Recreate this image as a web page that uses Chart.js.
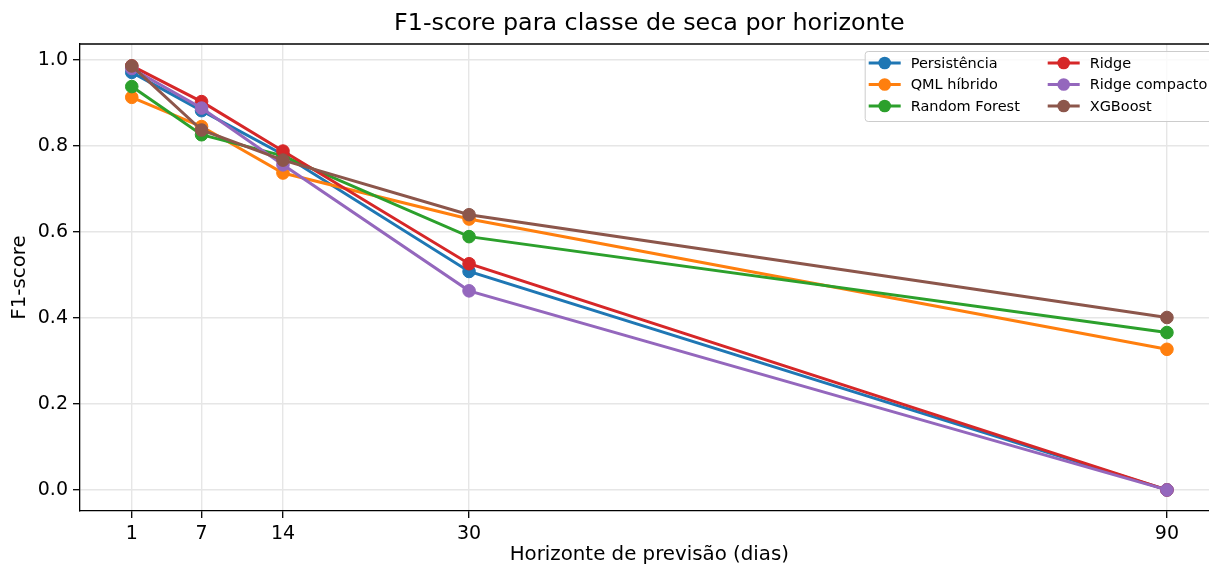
<!DOCTYPE html>
<html>
<head>
<meta charset="utf-8">
<script src="https://cdn.jsdelivr.net/npm/chart.js@4.4.0/dist/chart.umd.min.js"></script>
<style>
    html, body { margin: 0; padding: 0; background: #fff; overflow: hidden; }
    canvas { display: block; }
</style>
</head>
<body>
<canvas id="f1Chart" width="1226" height="568"></canvas>
<script>
// horizontes (dias) e F1-score por modelo
const horizontes = [1, 7, 14, 30, 90];
const modelos = ['Persistência', 'QML híbrido', 'Random Forest', 'Ridge', 'Ridge compacto', 'XGBoost'];
const persistencia = [0.971, 0.882, 0.780, 0.508, 0.0];
const qmlHibrido = [0.913, 0.845, 0.737, 0.630, 0.327];
const randomForest = [0.938, 0.826, 0.777, 0.589, 0.366];
const ridge = [0.986, 0.903, 0.788, 0.526, 0.0];
const ridgeCompacto = [0.980, 0.888, 0.756, 0.463, 0.0];
const xgboost = [0.986, 0.837, 0.767, 0.640, 0.401];
const yTicks = [0.0, 0.2, 0.4, 0.6, 0.8, 1.0];
const cores = ['#1f77b4', '#ff7f0e', '#2ca02c', '#d62728', '#9467bd', '#8c564b'];
const titulo = 'F1-score para classe de seca por horizonte';

const series = [persistencia, qmlHibrido, randomForest, ridge, ridgeCompacto, xgboost];
const FONT = "'DejaVu Sans', sans-serif";

const datasets = series.map((vals, i) => ({
    label: modelos[i],
    data: vals.map((v, k) => ({ x: horizontes[k], y: v })),
    borderColor: cores[i],
    backgroundColor: cores[i],
    pointBackgroundColor: cores[i],
    pointBorderColor: cores[i],
    borderWidth: 3,
    pointRadius: 6.3,
    pointBorderWidth: 1,
    tension: 0,
    order: series.length - i
}));

// titulo centrado no eixo, moldura superior e legenda em 2 colunas (estilo matplotlib)
const extras = {
    id: 'extras',
    afterDatasetsDraw(chart) {
        const ctx = chart.ctx;
        const a = chart.chartArea;
        ctx.save();
        ctx.strokeStyle = '#000';
        ctx.lineWidth = 1.3;
        ctx.beginPath();
        ctx.moveTo(a.left, a.top);
        ctx.lineTo(a.right, a.top);
        ctx.stroke();

        ctx.fillStyle = '#000';
        ctx.font = '23.8px ' + FONT;
        ctx.textAlign = 'center';
        ctx.textBaseline = 'middle';
        ctx.fillText(titulo, (a.left + a.right) / 2, 24);

        const bx = a.right - 354, by = a.top + 7, bw = 348, bh = 70;
        ctx.fillStyle = 'rgba(255,255,255,0.8)';
        ctx.strokeStyle = '#cccccc';
        ctx.lineWidth = 1;
        ctx.beginPath();
        ctx.roundRect(bx + 0.5, by + 0.5, bw, bh, 3);
        ctx.fill();
        ctx.stroke();

        ctx.font = '14.5px ' + FONT;
        ctx.textAlign = 'left';
        chart.data.datasets.forEach((ds, i) => {
            const col = Math.floor(i / 3), row = i % 3;
            const x0 = bx + 4 + col * 179;
            const y = by + 12 + row * 21.5;
            ctx.strokeStyle = ds.borderColor;
            ctx.lineWidth = 3;
            ctx.beginPath();
            ctx.moveTo(x0, y);
            ctx.lineTo(x0 + 32, y);
            ctx.stroke();
            ctx.fillStyle = ds.borderColor;
            ctx.beginPath();
            ctx.arc(x0 + 16, y, 6.3, 0, Math.PI * 2);
            ctx.fill();
            ctx.fillStyle = '#000';
            ctx.fillText(ds.label, x0 + 42, y + 1);
        });
        ctx.restore();
    }
};

new Chart(document.getElementById('f1Chart'), {
    type: 'line',
    data: { datasets },
    plugins: [extras],
    options: {
        responsive: false,
        animation: false,
        layout: { padding: { left: 0, right: 2.7, top: 44, bottom: 0 } },
        plugins: {
            legend: { display: false },
            tooltip: { enabled: false },
            title: { display: false }
        },
        scales: {
            x: {
                type: 'linear',
                min: -3.45,
                max: 94.45,
                afterBuildTicks: s => { s.ticks = horizontes.map(v => ({ value: v })); },
                afterFit: s => { s.height = 57; },
                ticks: {
                    color: '#000',
                    font: { family: FONT, size: 19 },
                    padding: 5,
                    autoSkip: false,
                    maxRotation: 0,
                    callback: v => String(v)
                },
                grid: { color: '#e6e6e6', lineWidth: 1.4, tickColor: '#000', tickLength: 7, tickWidth: 1.3 },
                border: { color: '#000', width: 1.3 },
                title: {
                    display: true,
                    text: 'Horizonte de previsão (dias)',
                    color: '#000',
                    font: { family: FONT, size: 19.8 },
                    padding: { top: 0, bottom: 1 }
                }
            },
            y: {
                min: -0.049,
                max: 1.037,
                afterBuildTicks: s => { s.ticks = yTicks.map(v => ({ value: v })); },
                afterFit: s => { s.width = 80; },
                ticks: {
                    color: '#000',
                    font: { family: FONT, size: 19 },
                    padding: 5,
                    callback: v => Number(v).toFixed(1)
                },
                grid: { color: '#e6e6e6', lineWidth: 1.4, tickColor: '#000', tickLength: 7, tickWidth: 1.3 },
                border: { color: '#000', width: 1.3 },
                title: {
                    display: true,
                    text: 'F1-score',
                    color: '#000',
                    font: { family: FONT, size: 19.8 },
                    padding: { top: 8, bottom: 0 }
                }
            }
        }
    }
});
</script>
</body>
</html>
